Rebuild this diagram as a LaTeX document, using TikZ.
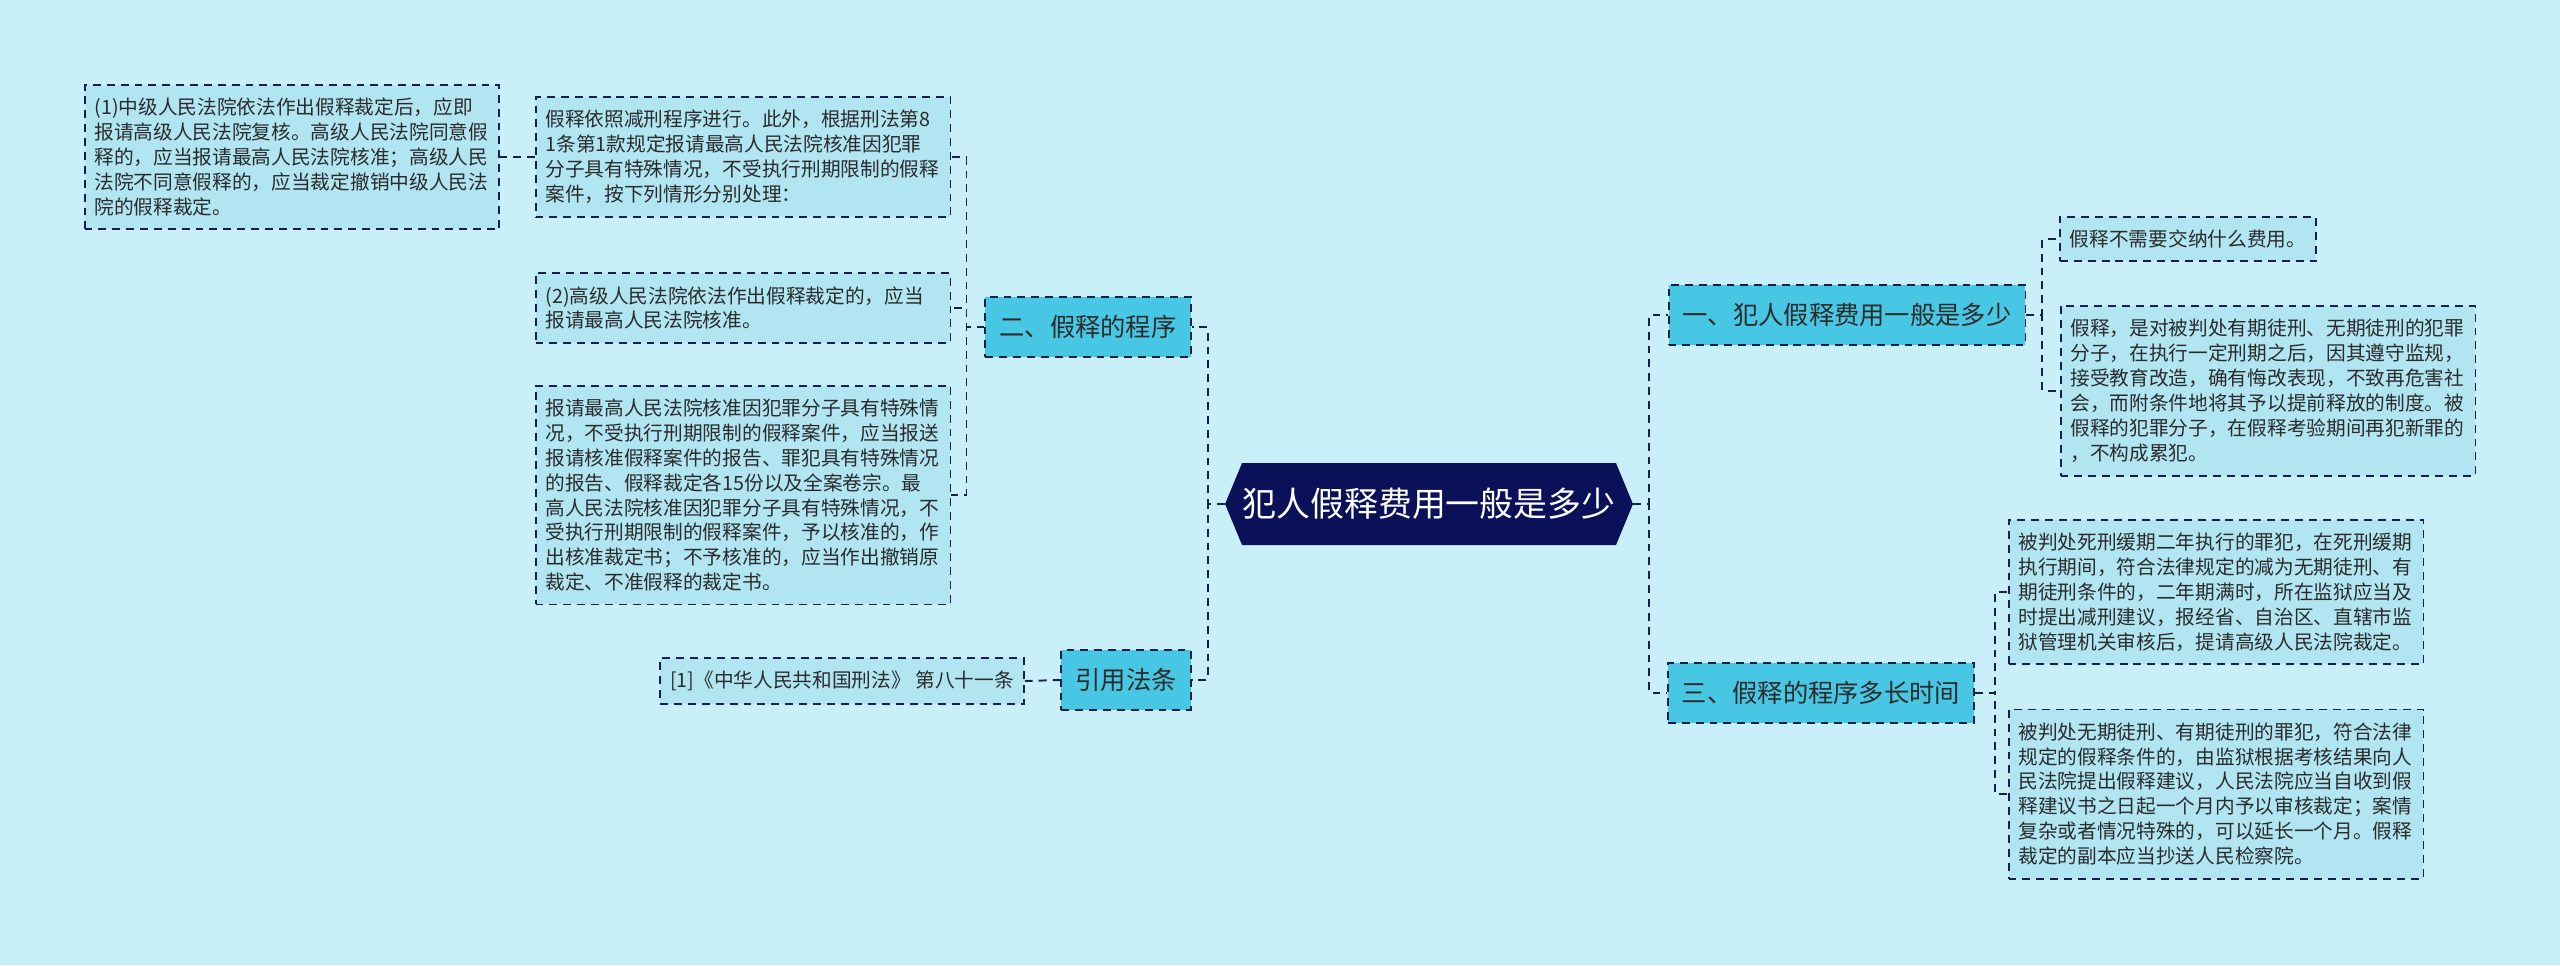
\documentclass[tikz,border=0pt]{standalone}
\usepackage{fontspec}
\setmainfont{Noto Sans CJK SC}

\definecolor{bgc}{HTML}{C9EFF8}
\definecolor{leafc}{HTML}{B1E5F2}
\definecolor{topicc}{HTML}{47C7E3}
\definecolor{rootc}{HTML}{0B1158}
\definecolor{edgec}{HTML}{15204F}
\definecolor{txtc}{HTML}{2B2B2B}

\tikzset{
  link/.style={draw=edgec, line width=1.1pt, dash pattern=on 4.5pt off 3.4pt},
  leaf/.style={link, fill=leafc, text=txtc, align=left, inner xsep=0.2cm, inner ysep=0.26cm,
    font=\fontsize{11.2pt}{14.2pt}\selectfont},
  wideleaf/.style={leaf, text width=7.9cm},
  topic/.style={link, fill=topicc, text=txtc, inner xsep=0.28cm, minimum height=1.2cm,
    font=\fontsize{14.4pt}{17pt}\selectfont},
  rootbox/.style={minimum width=8.16cm, minimum height=1.64cm, inner sep=0pt, text=white,
    font=\fontsize{19.3pt}{23pt}\selectfont,
    path picture={\fill[rootc] (path picture bounding box.west)
      -- ([xshift=0.34cm]path picture bounding box.north west)
      -- ([xshift=-0.34cm]path picture bounding box.north east)
      -- (path picture bounding box.east)
      -- ([xshift=-0.34cm]path picture bounding box.south east)
      -- ([xshift=0.34cm]path picture bounding box.south west) -- cycle;}},
}

\begin{document}
\begin{tikzpicture}[x=0.02cm, y=-0.02cm]
\fill[bgc] (0,0) rectangle (2560,965);
\useasboundingbox (0,0) rectangle (2560,965);

% centre
\node[rootbox] (root) at (1429,504) {犯人假释费用一般是多少};

% main branches
\node[topic] (p1) at (1847,315) {一、犯人假释费用一般是多少};
\node[topic] (p2) at (1088,327) {二、假释的程序};
\node[topic] (p3) at (1821,693) {三、假释的程序多长时间};
\node[topic] (law) at (1126,680) {引用法条};

% left side
\node[wideleaf] (a0) at (743,157) {假释依照减刑程序进行。此外，根据刑法第8\\
1条第1款规定报请最高人民法院核准因犯罪\\
分子具有特殊情况，不受执行刑期限制的假释\\
案件，按下列情形分别处理：};
\node[wideleaf] (a1) at (292,157) {(1)中级人民法院依法作出假释裁定后，应即\\
报请高级人民法院复核。高级人民法院同意假\\
释的，应当报请最高人民法院核准；高级人民\\
法院不同意假释的，应当裁定撤销中级人民法\\
院的假释裁定。};
\node[wideleaf] (a2) at (743,308) {(2)高级人民法院依法作出假释裁定的，应当\\
报请最高人民法院核准。};
\node[wideleaf] (a3) at (743,495) {报请最高人民法院核准因犯罪分子具有特殊情\\
况，不受执行刑期限制的假释案件，应当报送\\
报请核准假释案件的报告、罪犯具有特殊情况\\
的报告、假释裁定各15份以及全案卷宗。最\\
高人民法院核准因犯罪分子具有特殊情况，不\\
受执行刑期限制的假释案件，予以核准的，作\\
出核准裁定书；不予核准的，应当作出撤销原\\
裁定、不准假释的裁定书。};
\node[leaf] (r1) at (842,681) {[1]《中华人民共和国刑法》 第八十一条};

% right side
\node[leaf] (b1) at (2188,239) {假释不需要交纳什么费用。};
\node[wideleaf] (b2) at (2268,391) {假释，是对被判处有期徒刑、无期徒刑的犯罪\\
分子，在执行一定刑期之后，因其遵守监规，\\
接受教育改造，确有悔改表现，不致再危害社\\
会，而附条件地将其予以提前释放的制度。被\\
假释的犯罪分子，在假释考验期间再犯新罪的\\
，不构成累犯。};
\node[wideleaf] (c1) at (2216,592) {被判处死刑缓期二年执行的罪犯，在死刑缓期\\
执行期间，符合法律规定的减为无期徒刑、有\\
期徒刑条件的，二年期满时，所在监狱应当及\\
时提出减刑建议，报经省、自治区、直辖市监\\
狱管理机关审核后，提请高级人民法院裁定。};
\node[wideleaf] (c2) at (2216,794) {被判处无期徒刑、有期徒刑的罪犯，符合法律\\
规定的假释条件的，由监狱根据考核结果向人\\
民法院提出假释建议，人民法院应当自收到假\\
释建议书之日起一个月内予以审核裁定；案情\\
复杂或者情况特殊的，可以延长一个月。假释\\
裁定的副本应当抄送人民检察院。};

% connectors
\draw[link] (root.west) -- ++(-17,0) |- (p2.east);
\draw[link] (root.west) -- ++(-17,0) |- (law.east);
\draw[link] (root.east) -- ++(16,0) |- (p1.west);
\draw[link] (root.east) -- ++(16,0) |- (p3.west);
\draw[link] (p2.west) -- ++(-18,0) |- (a0.east);
\draw[link] (p2.west) -- ++(-18,0) |- (a2.east);
\draw[link] (p2.west) -- ++(-18,0) |- (a3.east);
\draw[link] (a0.west) -- (a1.east);
\draw[link] (law.west) -- (r1.east);
\draw[link] (p1.east) -- ++(16,0) |- (b1.west);
\draw[link] (p1.east) -- ++(16,0) |- (b2.west);
\draw[link] (p3.east) -- ++(20,0) |- (c1.west);
\draw[link] (p3.east) -- ++(20,0) |- (c2.west);
\end{tikzpicture}
\end{document}
